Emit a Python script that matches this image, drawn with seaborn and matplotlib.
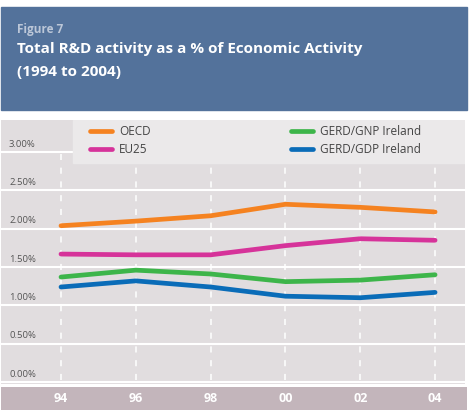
import matplotlib.pyplot as plt
import matplotlib.patches as mpatches
import pandas as pd
import seaborn as sns

years = [1994, 1996, 1998, 2000, 2002, 2004]
year_labels = ['94', '96', '98', '00', '02', '04']
oecd = [2.04, 2.10, 2.17, 2.32, 2.28, 2.22]
eu25 = [1.67, 1.66, 1.66, 1.78, 1.87, 1.85]
gnp_ireland = [1.37, 1.46, 1.41, 1.31, 1.33, 1.40]
gdp_ireland = [1.24, 1.32, 1.24, 1.12, 1.10, 1.17]
y_ticks = [0.0, 0.5, 1.0, 1.5, 2.0, 2.5, 3.0]
y_labels = ['0.00%', '0.50%', '1.00%', '1.50%', '2.00%', '2.50%', '3.00%']

series = {'OECD': oecd, 'EU25': eu25,
          'GERD/GNP Ireland': gnp_ireland, 'GERD/GDP Ireland': gdp_ireland}
colors = {'OECD': '#f58220', 'EU25': '#d6339a',
          'GERD/GNP Ireland': '#3db54a', 'GERD/GDP Ireland': '#0a6cb8'}

df = pd.DataFrame({'year': years * len(series),
                   'series': [k for k in series for _ in years],
                   'value': [v for k in series for v in series[k]]})

sns.set_style("white")
plt.rcParams['font.family'] = ['Open Sans', 'DejaVu Sans']

W, H = 471, 412
fig = plt.figure(figsize=(W / 100, H / 100), dpi=100)

# header box
fig.patches.append(mpatches.Rectangle((1 / W, 1 - 110 / H), 466 / W, 103 / H,
                                      transform=fig.transFigure, color='#53729b', zorder=0))
fig.text(17 / W, 1 - 29 / H, 'Figure 7', color='#bcc7d8', fontsize=8.5,
         fontweight='bold', va='center')
fig.text(17 / W, 1 - 49 / H, 'Total R&D activity as a % of Economic Activity',
         color='white', fontsize=11, fontweight='bold', va='center')
fig.text(17 / W, 1 - 72 / H, '(1994 to 2004)', color='white', fontsize=11,
         fontweight='bold', va='center')

# plot area
x0 = 1992.396
x1 = 2004.80
ax = fig.add_axes([1 / W, 28 / H, 464 / W, 264 / H])
ax.set_facecolor('#e1dddf')
ax.set_xlim(x0, x1)
ax.set_ylim(-0.026, 3.42)
for s in ax.spines.values():
    s.set_visible(False)
ax.set_xticks([])
ax.set_yticks([])

for t in y_ticks:
    ax.axhline(t, color='white', lw=1.5, zorder=1)
for yr in years:
    ax.plot([yr, yr], [0.03, 2.98], color='white', lw=1.1, dashes=(4, 5), zorder=1)
for t, lab in zip(y_ticks, y_labels):
    ax.text(8 / 464, t + 0.045, lab, transform=ax.get_yaxis_transform(),
            fontsize=6.8, color='#555555', va='bottom', ha='left')

sns.lineplot(data=df, x='year', y='value', hue='series', palette=colors,
             linewidth=3.4, ax=ax, legend=False, zorder=3,
             solid_capstyle='round', solid_joinstyle='round')
ax.set_xlabel('')
ax.set_ylabel('')

# legend panel
ax.add_patch(mpatches.Rectangle((72 / 464, (384 - 163) / 264), 392 / 464, 43 / 264,
                                transform=ax.transAxes, color='#ebe9ea', zorder=4))
names = list(series)
handles = [plt.Line2D([], [], color=colors[n], lw=3.4) for n in names]
leg1 = ax.legend(handles[:2], names[:2], loc='upper left',
                 bbox_to_anchor=(84 / 464, (384 - 120) / 264), frameon=False,
                 fontsize=8.5, handlelength=1.9, handletextpad=0.6, labelspacing=0.45,
                 borderaxespad=0)
leg1.set_zorder(5)
ax.add_artist(leg1)
leg2 = ax.legend(handles[2:], names[2:], loc='upper left',
                 bbox_to_anchor=(285 / 464, (384 - 120) / 264), frameon=False,
                 fontsize=8.5, handlelength=1.9, handletextpad=0.6, labelspacing=0.45,
                 borderaxespad=0)
leg2.set_zorder(5)
for leg in (leg1, leg2):
    for txt in leg.get_texts():
        txt.set_color('#444444')

# x band
axb = fig.add_axes([1 / W, (H - 410) / H, 466 / W, 23 / H])
axb.set_facecolor('#c3b5bb')
axb.set_xlim(x0, x0 + (x1 - x0) * 466 / 464)
axb.set_ylim(0, 1)
for s in axb.spines.values():
    s.set_visible(False)
axb.set_xticks([])
axb.set_yticks([])
for yr, lab in zip(years, year_labels):
    axb.text(yr, 0.5, lab, color='white', fontsize=9, fontweight='bold',
             ha='center', va='center')

plt.savefig('out.png', dpi=100)
